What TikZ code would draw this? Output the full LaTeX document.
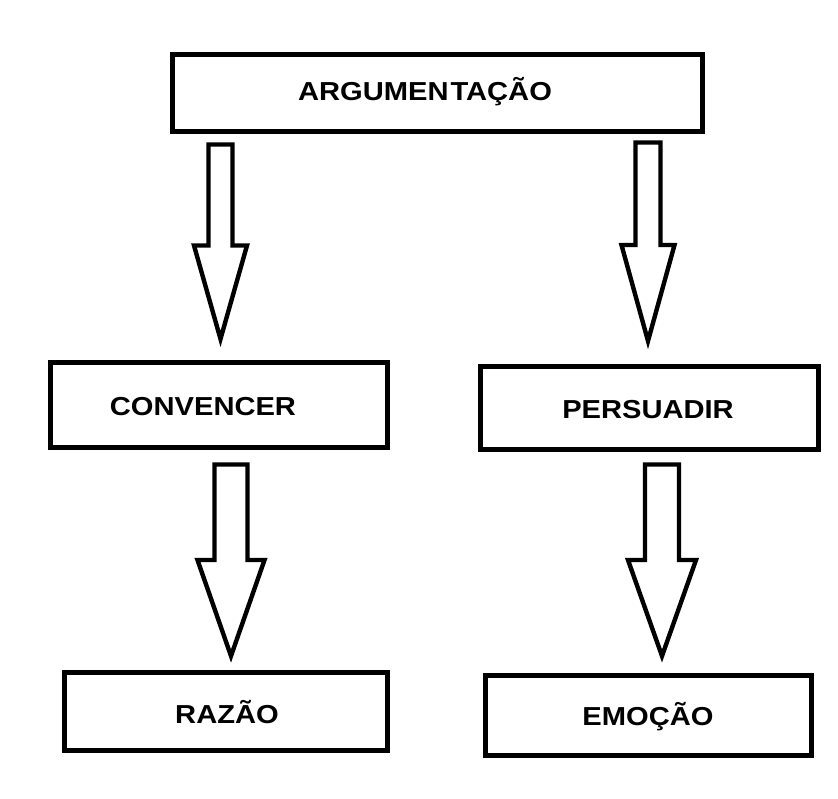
\documentclass[tikz,border=0pt]{standalone}
\usepackage{fontspec}
\newfontfamily\labfont[FakeStretch=1.12]{Liberation Sans}
\begin{document}
\begin{tikzpicture}[x=1pt,y=1pt,
  boxline/.style={draw=black, line width=4.6pt, fill=white, inner sep=0pt, rectangle},
  arrowline/.style={draw=black, line width=4.4pt, fill=white, line join=miter},
  lab/.style={anchor=base, inner sep=0pt, font=\labfont\bfseries\fontsize{26}{31}\selectfont}]
\useasboundingbox (0,0) rectangle (838,-799);
\fill[white] (0,0) rectangle (838,-799);
% boxes
\node[boxline, minimum width=530pt, minimum height=77pt] (bA) at (437.5,-93) {};
\node[boxline, minimum width=337pt, minimum height=85pt] (bC) at (219,-405) {};
\node[boxline, minimum width=338pt, minimum height=83pt] (bP) at (649.5,-408) {};
\node[boxline, minimum width=323pt, minimum height=78pt] (bR) at (226,-711.5) {};
\node[boxline, minimum width=326pt, minimum height=80pt] (bE) at (648.5,-715.5) {};
% texts
\node[lab] (tA) at (425,-100.5) {ARGUMEN\kern2pt TAÇÃO};
\node[lab] (tC) at (203,-415) {CONVENCER};
\node[lab] (tP) at (648,-418) {PERSUADIR};
\node[lab] (tR) at (227,-723) {RAZÃO};
\node[lab] (tE) at (648,-725) {EMOÇÃO};
% arrow start points
\coordinate (a1) at (220.5,-144.5);
\coordinate (a2) at (648,-142.5);
\coordinate (a3) at (231,-464.5);
\coordinate (a4) at (662,-464.5);
% block arrows: shaft half, head half, base depth, tip depth
\draw[arrowline, shift={(a1)}] (-12,0) -- (12,0) -- (12,-101) -- (26.5,-101) -- (0,-194.5) -- (-26.5,-101) -- (-12,-101) -- cycle;
\draw[arrowline, shift={(a2)}] (-12.5,0) -- (12.5,0) -- (12.5,-102.5) -- (26.5,-102.5) -- (0,-198.5) -- (-26.5,-102.5) -- (-12.5,-102.5) -- cycle;
\draw[arrowline, shift={(a3)}] (-16.5,0) -- (16.5,0) -- (16.5,-95.5) -- (33.5,-95.5) -- (0,-191.5) -- (-33.5,-95.5) -- (-16.5,-95.5) -- cycle;
\draw[arrowline, shift={(a4)}] (-17,0) -- (17,0) -- (17,-95.5) -- (34,-95.5) -- (0,-191.5) -- (-34,-95.5) -- (-17,-95.5) -- cycle;
\end{tikzpicture}
\end{document}
